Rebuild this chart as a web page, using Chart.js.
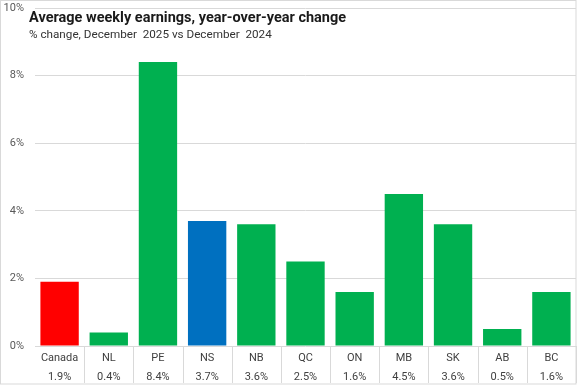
<!DOCTYPE html>
<html>
<head>
<meta charset="utf-8">
<script src="https://cdn.jsdelivr.net/npm/chart.js@4.4.1/dist/chart.umd.min.js"></script>
<style>
    html, body { margin: 0; padding: 0; background: #ffffff; }
    #wrap { width: 577px; height: 385px; position: relative; }
</style>
</head>
<body>
<div id="wrap"><canvas id="chart"></canvas></div>
<script>
    'use strict';

    // data
    const regions = ['Canada', 'NL', 'PE', 'NS', 'NB', 'QC', 'ON', 'MB', 'SK', 'AB', 'BC'];
    const changePct = [1.9, 0.4, 8.4, 3.7, 3.6, 2.5, 1.6, 4.5, 3.6, 0.5, 1.6];
    const yTicks = [0, 2, 4, 6, 8, 10];

    const titleText = 'Average weekly earnings, year-over-year change';
    const subtitleText = '% change, December  2025 vs December  2024';

    const RED = '#FF0000';
    const GREEN = '#00B050';
    const BLUE = '#0070C0';
    const GRID = '#d9d9d9';
    const FONT = 'Roboto, "Noto Sans", sans-serif';

    function barColor(name) {
        if (name === 'Canada') return RED;
        if (name === 'NS') return BLUE;
        return GREEN;
    }

    // draws the title block, the table separators and the outer frame
    const decorPlugin = {
        id: 'decor',
        afterDraw(chart) {
            const ctx = chart.ctx;
            const x = chart.scales.x;
            const area = chart.chartArea;
            const step = x.getPixelForValue(1) - x.getPixelForValue(0);

            ctx.save();
            ctx.strokeStyle = GRID;
            ctx.lineWidth = 1;
            for (let i = 0; i < regions.length; i++) {
                const px = Math.round(x.getPixelForValue(i) + step / 2) + 0.5;
                ctx.beginPath();
                ctx.moveTo(px, area.bottom);
                ctx.lineTo(px, chart.height - 2);
                ctx.stroke();
            }
            ctx.strokeRect(0.5, 0.5, chart.width - 1.5, chart.height - 1.5);

            ctx.fillStyle = '#1a1a1a';
            ctx.textBaseline = 'alphabetic';
            ctx.font = 'bold 14.5px ' + FONT;
            ctx.fillText(titleText, 29, 22);
            ctx.fillStyle = '#333333';
            ctx.font = '11.7px ' + FONT;
            ctx.fillText(subtitleText, 29, 38);
            ctx.restore();
        }
    };

    new Chart(document.getElementById('chart'), {
        type: 'bar',
        data: {
            labels: regions,
            datasets: [{
                data: changePct,
                backgroundColor: regions.map(barColor),
                borderWidth: 0,
                barPercentage: 0.78,
                categoryPercentage: 1
            }]
        },
        options: {
            responsive: true,
            maintainAspectRatio: false,
            animation: false,
            devicePixelRatio: 1,
            layout: { padding: { left: 0, right: 1, top: 8, bottom: 0 } },
            plugins: {
                legend: { display: false },
                tooltip: { enabled: false }
            },
            scales: {
                x: {
                    grid: { display: false },
                    border: { display: false },
                    ticks: {
                        color: '#404040',
                        font: { family: FONT, size: 11, lineHeight: 1.8 },
                        padding: -6,
                        autoSkip: false,
                        maxRotation: 0,
                        callback: (v, i) => [regions[i], changePct[i].toFixed(1) + '%']
                    },
                    afterFit: (s) => { s.height = 39; s.paddingLeft = 0; s.paddingRight = 0; }
                },
                y: {
                    min: 0,
                    max: 10,
                    afterBuildTicks: (s) => { s.ticks = yTicks.map(v => ({ value: v })); },
                    grid: { color: GRID, drawTicks: false },
                    border: { display: false },
                    ticks: {
                        color: '#595959',
                        font: { family: FONT, size: 11 },
                        padding: 11,
                        callback: (v) => v + '%'
                    },
                    afterFit: (s) => { s.width = 35; s.paddingTop = 0; s.paddingBottom = 0; }
                }
            }
        },
        plugins: [decorPlugin]
    });
</script>
</body>
</html>
